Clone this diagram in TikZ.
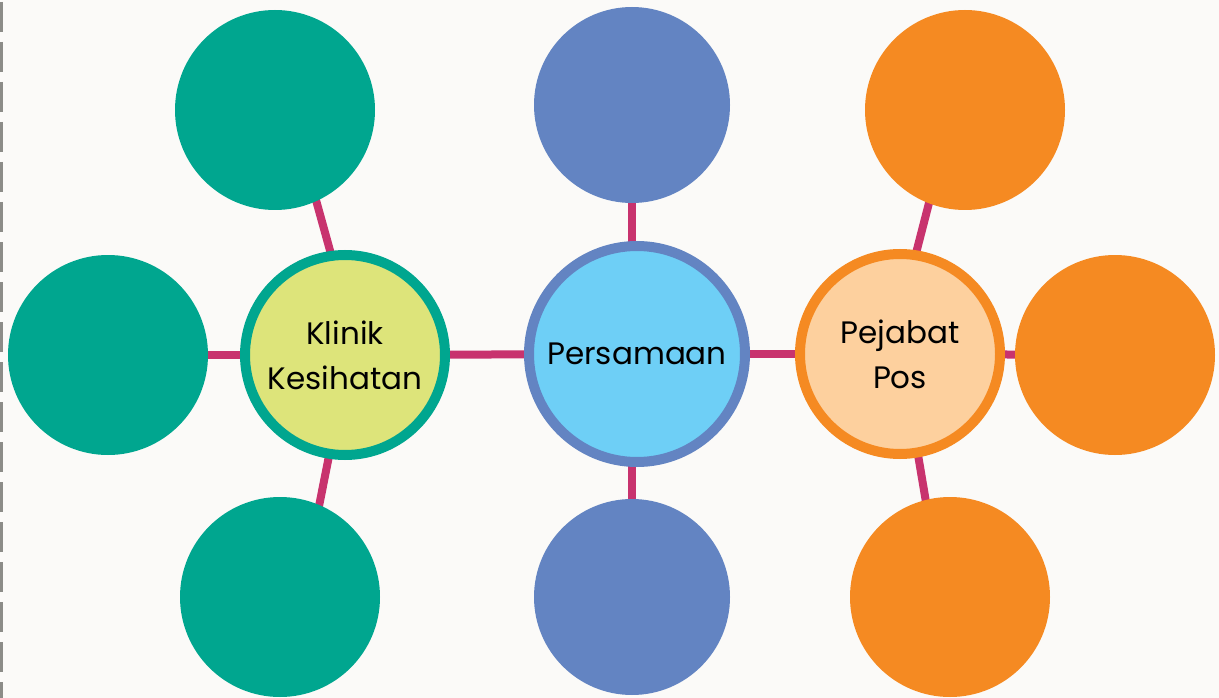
\documentclass[tikz,border=0pt]{standalone}
\usepackage{fontspec}
\setmainfont{Poppins}
\usetikzlibrary{backgrounds}
\definecolor{bgc}{HTML}{FBFAF8}
\definecolor{teal}{HTML}{00A68F}
\definecolor{lime}{HTML}{DDE47A}
\definecolor{blu}{HTML}{6384C2}
\definecolor{lblu}{HTML}{6ECFF6}
\definecolor{orng}{HTML}{F58A22}
\definecolor{peach}{HTML}{FDD09E}
\definecolor{mag}{HTML}{C8336E}
\definecolor{dashc}{HTML}{8C8C88}
\tikzset{
  sat/.style={circle, minimum size=200pt, inner sep=0pt},
  hub/.style={circle, minimum size=200pt, inner sep=0pt, line width=10pt, align=center, font=\fontsize{31}{45}\selectfont},
  conn/.style={draw=mag, line width=8pt}
}
\begin{document}
\begin{tikzpicture}[x=1pt,y=-1pt]
\useasboundingbox (0,0) rectangle (1219,698);
% hubs
\node[hub, draw=teal, fill=lime] (k) at (345,355) {Klinik\\Kesihatan};
\node[hub, draw=blu, fill=lblu, minimum size=216pt] (p) at (637,354) {Persamaan};
\node[hub, draw=orng, fill=peach] (j) at (900,354) {Pejabat\\Pos};
% satellites
\node[sat, fill=teal] (k1) at (275,110) {};
\node[sat, fill=teal] (k2) at (108,355) {};
\node[sat, fill=teal] (k3) at (280,597) {};
\node[sat, fill=blu, minimum size=196pt] (p1) at (632,105) {};
\node[sat, fill=blu, minimum size=196pt] (p2) at (632,597) {};
\node[sat, fill=orng] (j1) at (965,110) {};
\node[sat, fill=orng] (j2) at (1115,355) {};
\node[sat, fill=orng] (j3) at (950,597) {};
\begin{scope}[on background layer]
\fill[bgc] (0,0) rectangle (1219,698);
\draw[dashc, line width=2.5pt, dash pattern=on 30pt off 10pt] (1.25,2) -- (1.25,698);
\draw[conn] ([xshift=14pt]k.center) -- ([xshift=16pt]k1.center);
\draw[conn] (k.center) -- (k2.center);
\draw[conn] ([xshift=4pt]k.center) -- ([xshift=21pt]k3.center);
\draw[conn] (k.center) -- (p.center);
\draw[conn] ([xshift=-5pt]p.center) -- (p1.center);
\draw[conn] ([xshift=-5pt]p.center) -- (p2.center);
\draw[conn] (p.center) -- (j.center);
\draw[conn] ([xshift=-10pt]j.center) -- ([xshift=-12pt]j1.center);
\draw[conn] (j.center) -- (j2.center);
\draw[conn] ([xshift=1pt]j.center) -- ([xshift=-8pt]j3.center);
\end{scope}
\end{tikzpicture}
\end{document}
